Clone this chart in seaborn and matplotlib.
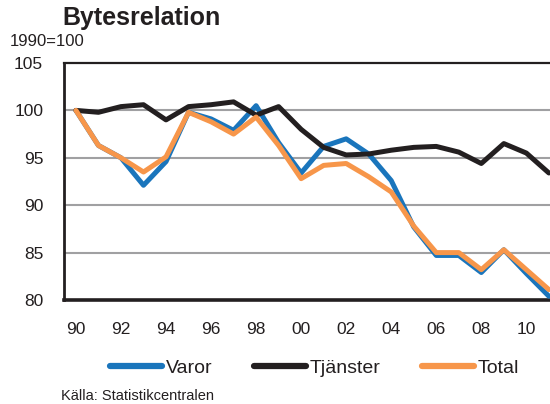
import numpy as np
import pandas as pd
import seaborn as sns
import matplotlib.pyplot as plt

# data (1990=100)
years = list(range(1990, 2012))
varor = [100.0, 96.3, 95.0, 92.1, 94.6, 99.8, 99.1, 97.9, 100.5, 96.6, 93.4,
         96.2, 97.0, 95.4, 92.6, 87.7, 84.7, 84.7, 82.9, 85.3, 82.8, 80.4]
tjanster = [100.0, 99.8, 100.4, 100.6, 99.0, 100.4, 100.6, 100.9, 99.5, 100.4, 98.0,
            96.1, 95.3, 95.4, 95.8, 96.1, 96.2, 95.6, 94.4, 96.5, 95.5, 93.4]
total = [100.0, 96.3, 95.0, 93.5, 95.1, 99.8, 98.8, 97.5, 99.3, 96.3, 92.8,
         94.2, 94.4, 93.0, 91.4, 87.8, 85.0, 85.0, 83.2, 85.3, 83.2, 81.1]
series = ['Varor', 'Tjänster', 'Total']
colors = ['#1a75bc', '#231f20', '#f7964a']
xtick_labels = ['90', '92', '94', '96', '98', '00', '02', '04', '06', '08', '10']

df = pd.DataFrame({'year': years, 'Varor': varor, 'Tjänster': tjanster, 'Total': total})
long = df.melt(id_vars='year', var_name='serie', value_name='index')

sns.set_style('white')
plt.rcParams['font.family'] = ['Liberation Sans', 'DejaVu Sans']

fig = plt.figure(figsize=(5.5, 4.04), dpi=100)
ax = fig.add_axes([64 / 550, 1 - 300 / 404, 1 - 64 / 550, (300 - 63) / 404])

sns.lineplot(data=long, x='year', y='index', hue='serie', hue_order=series,
             palette=colors, linewidth=3.6, ax=ax, legend=False, zorder=3)

ax.set_xlim(1989.47, 2011.05)
ax.set_ylim(80, 105)
ax.set_yticks([80, 85, 90, 95, 100, 105])
ax.set_xticks(list(range(1990, 2012, 2)))
ax.set_xticklabels(xtick_labels)
ax.tick_params(axis='both', length=0, labelsize=12.5, colors='#231f20')
ax.tick_params(axis='x', pad=16)
ax.tick_params(axis='y', pad=15)
ax.set_xlabel('')
ax.set_ylabel('')

for y in [85, 90, 95, 100]:
    ax.axhline(y, color='#a0a0a2', linewidth=1.5, zorder=1)

ax.spines['right'].set_visible(False)
ax.spines['left'].set_linewidth(2)
ax.spines['bottom'].set_linewidth(2.6)
ax.spines['top'].set_linewidth(1.6)
for s in ['left', 'bottom', 'top']:
    ax.spines[s].set_color('#231f20')

handles = [plt.Line2D([], [], color=c, linewidth=4.5, solid_capstyle='round') for c in colors]
fig.legend(handles, series, loc='center', bbox_to_anchor=(0.572, 1 - 368 / 404), ncol=3,
           frameon=False, fontsize=14, handlelength=2.7, handletextpad=0.2,
           columnspacing=2.1, labelcolor='#231f20')

fig.text(62 / 550, 1 - 18 / 404, 'Bytesrelation', fontsize=18, fontweight='bold',
         ha='left', va='center', color='#231f20')
fig.text(10 / 550, 1 - 42 / 404, '1990=100', fontsize=12, ha='left', va='center',
         color='#231f20')
fig.text(61 / 550, 1 - 396 / 404, 'Källa: Statistikcentralen', fontsize=10.5,
         ha='left', va='center', color='#231f20')

fig.savefig('out.png', dpi=100)
